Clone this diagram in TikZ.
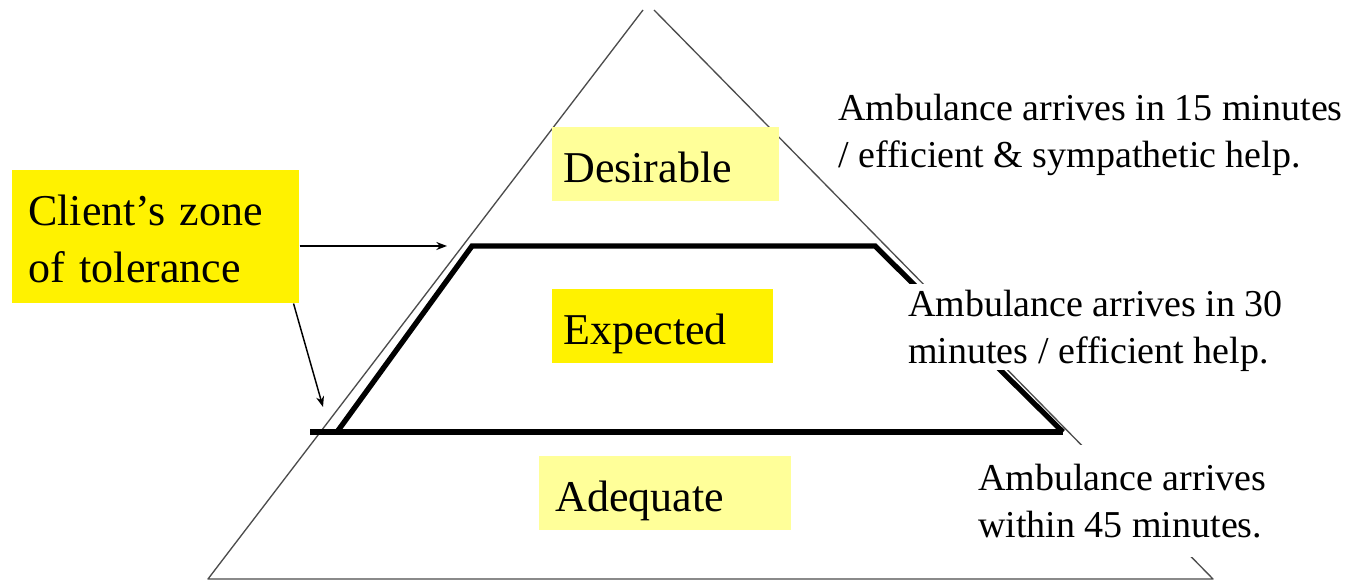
\documentclass[tikz,border=0pt]{standalone}
\usepackage{fontspec}
\setmainfont{Liberation Serif}
\newfontfamily\timesfont{Liberation Serif}
\usetikzlibrary{arrows.meta,calc}
\definecolor{paleyellow}{RGB}{255,255,153}
\begin{document}
\begin{tikzpicture}[x=0.75pt,y=-0.75pt,
  thin edge/.style={draw=black!70, line width=1pt, line join=round},
  thick edge/.style={draw=black, line width=4pt},
  level/.style={font=\timesfont\fontsize{33}{40}\selectfont, inner ysep=0pt,
    text height=42pt, text depth=13.5pt, align=left, anchor=south west},
  note/.style={font=\timesfont\fontsize{28.5}{35.25}\selectfont, align=left,
    anchor=north west, text depth=0pt},
  pointer/.style={draw=black, line width=1.1pt, -{Stealth[length=8pt,width=6pt]}}]
\useasboundingbox (0,0) rectangle (1353,580);

% outer pyramid
\coordinate (apexL) at (643,10);
\coordinate (apexR) at (654,10);
\coordinate (baseL) at (208,579);
\coordinate (baseR) at (1213,579);
\draw[thin edge] (apexL) -- (baseL) -- (baseR) -- (apexR);

% zone of tolerance (thick trapezoid)
\coordinate (tl) at (472,246);
\coordinate (tr) at (875,246);
\coordinate (bl) at (337,432);
\coordinate (br) at (1063,432);
\coordinate (bx) at (310,432);
\draw[thick edge] (bx) -- (br);
\draw[thick edge, line join=miter] (bl) -- (tl) -- (tr) -- (br);

% service levels
\node[level, fill=paleyellow, inner xsep=8.25pt, text width=153.75pt] (desirable) at (552,201) {Desirable};
\node[level, fill=yellow, inner xsep=8.25pt, text width=149.25pt] (expected) at (552,363) {Expected};
\node[level, fill=paleyellow, inner xsep=12pt, text width=165pt] (adequate) at (539,530) {Adequate};

% descriptions
\node[note, inner sep=0pt] (n15) at (838,94) {Ambulance arrives in 15 minutes\\/ efficient \& sympathetic help.};
\node[note, fill=white, inner xsep=3pt, inner ysep=4.5pt] (n30) at (904,284) {Ambulance arrives in 30\\minutes / efficient help.};
\node[note, fill=white, inner xsep=3pt, inner ysep=14.25pt] (n45) at (974,445) {Ambulance arrives\\within 45 minutes.};

% client label and pointers
\node[font=\timesfont\fontsize{33}{42.75}\selectfont, fill=yellow, anchor=north west,
  inner xsep=12pt, inner ysep=0pt, text width=191.25pt, text height=41.25pt,
  text depth=58.5pt, align=left] (client) at (12,170) {Client’s zone\\of tolerance};
\coordinate (tipA) at (447,246);
\coordinate (tipB) at (323,407);
\draw[pointer] (client.east |- tipA) -- (tipA);
\draw[pointer] ([xshift=-4.5pt]client.south east) -- (tipB);
\end{tikzpicture}
\end{document}
